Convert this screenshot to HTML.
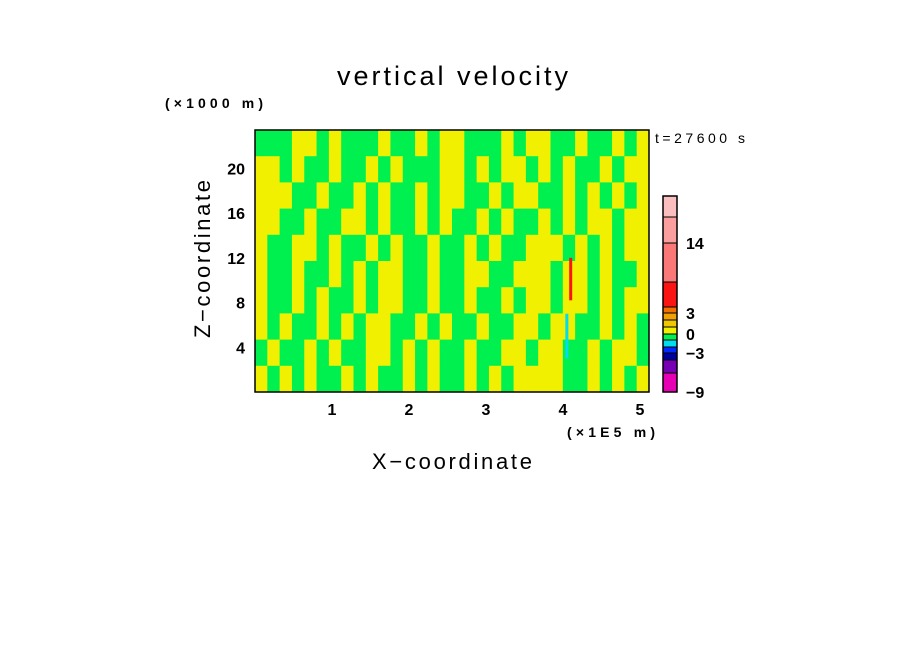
<!DOCTYPE html>
<html><head><meta charset="utf-8"><style>
body{margin:0;background:#fff;}
svg text{font-family:"Liberation Sans",sans-serif;fill:#000;}
</style></head><body>
<svg id="chart" width="904" height="654" viewBox="0 0 904 654" xmlns="http://www.w3.org/2000/svg">
<text x="337" y="85" font-size="27" textLength="231" lengthAdjust="spacing">vertical velocity</text>
<text x="165" y="108" font-size="14" font-weight="bold" textLength="98" lengthAdjust="spacing">(×1000 m)</text>
<text x="655" y="143" font-size="14" textLength="90" lengthAdjust="spacing">t=27600 s</text>
<text x="567" y="437" font-size="14" font-weight="bold" textLength="88" lengthAdjust="spacing">(×1E5 m)</text>
<text x="372" y="469" font-size="22" textLength="160" lengthAdjust="spacing">X−coordinate</text>
<text transform="translate(210,338) rotate(-90)" font-size="22" textLength="158" lengthAdjust="spacing">Z−coordinate</text>
<g id="field"></g>
<g id="axes"></g>
<g id="cbar"></g>
</svg>
<script>
const fieldRows = [
"GGGYYGYGGGYGGYGYYGGGYGYYGGYGGYGY",
"YYGYGGYGGYGYGGGYYGYGYYGYGYGGYGYY",
"YYYGGYGGYGYGGYGYYGGYGYYGGYGYGYGY",
"YYGGYGGYYGYGGYGYGGYGYGGYGYGYYGYY",
"YGGYYGYGGYGYGGYGGYGYGGYYYGYGYGYY",
"YGGYGGYGYGYYGGYGGYYGGYYYGYYGYGGY",
"YGGYGYGGYGYYGGYGGYGGYGYYGYYGYGYY",
"YGYGGYGYGYYGGYGYGGYGGYYGYYGGYGYG",
"GYGGYGYGGYYGYGYGGYGGYYGYYGGYGYYG",
"YGYGYGGYGYGGYGYGGYGYGYYYYGGYGYGY"
];
const xTicks = [1,2,3,4,5];
const yTicks = [4,8,12,16,20];
const cbLevels = [-9,-6,-4,-3,-2,-1,0,1,2,3,4,8,14,18,22];
const cbLabels = [-9,-3,0,3,14];
const cbColors = ["#e600b4","#7800b4","#0000a0","#0028ff","#00dcf0","#00f050","#f0f000","#f0c800","#f0a000","#f07000","#fa1414","#fa7878","#fa9e9e","#fabebe"];
const streakX = [4.10, 4.05];
const streakZ0 = [8.2, 3.0];
const streakZ1 = [12.0, 7.0];
const streakColor = ["#fa1414","#00dcf0"];

const X0=255,X1=649,Y0=392,Y1=130;
const xmax=(X1-X0)/77, zmax=(Y0-Y1)/11.18;
const sx=v=>X0+v*77, sy=v=>Y0-v*11.18;
const NS="http://www.w3.org/2000/svg";
function mk(t,a,p){const e=document.createElementNS(NS,t);for(const k in a)e.setAttribute(k,a[k]);p.appendChild(e);return e;}
const field=document.getElementById('field');
const nr=fieldRows.length,nc=fieldRows[0].length;
fieldRows.forEach((row,r)=>{
  for(let c=0;c<nc;c++){
    const xa=c*xmax/nc, xb=(c+1)*xmax/nc, za=zmax-(r)*zmax/nr, zb=zmax-(r+1)*zmax/nr;
    const el=mk('rect',{x:sx(xa),y:sy(za),width:sx(xb)-sx(xa)+0.5,height:sy(zb)-sy(za)+0.5,fill:row[c]==='G'?'#00f050':'#f0f000'},field);
    
    
  }
});
streakX.forEach((v,i)=>{
  const el=mk('rect',{x:sx(v)-1.5,y:sy(streakZ1[i]),width:3,height:sy(streakZ0[i])-sy(streakZ1[i]),fill:streakColor[i]},field);
  
  
});
const axes=document.getElementById('axes');
const fr=mk('rect',{x:X0,y:Y1,width:X1-X0,height:Y0-Y1,fill:'none',stroke:'#000','stroke-width':1.5},axes);


xTicks.forEach(v=>{
  const t=mk('text',{x:sx(v),y:Y0+23,'font-size':16,'font-weight':'bold','text-anchor':'middle'},axes);t.textContent=v;
  
  
});
yTicks.forEach(v=>{
  const t=mk('text',{x:X0-10,y:sy(v)+6,'font-size':16,'font-weight':'bold','text-anchor':'end'},axes);t.textContent=v;
  
  
});
const cb=document.getElementById('cbar');
const CB0=392,CB1=196;
const segH=[19,13,7,6,7,6,7,7,7,6,25,39,26,21];
let yy=CB0;
const lvY={};
lvY[cbLevels[0]]=yy;
const tot=segH.reduce((a,b)=>a+b,0);
cbColors.forEach((col,i)=>{
  const h=segH[i]*(CB0-CB1)/tot;
  const el=mk('rect',{x:663,y:yy-h,width:14,height:h,fill:col,stroke:'#000','stroke-width':1},cb);
  
  
  yy-=h; lvY[cbLevels[i+1]]=yy;
});
const fb=mk('rect',{x:663,y:CB1,width:14,height:CB0-CB1,fill:'none',stroke:'#000','stroke-width':1.5},cb);


cbLabels.forEach(v=>{
  const t=mk('text',{x:686,y:lvY[v]+6,'font-size':16,'font-weight':'bold'},cb);t.textContent=(v<0?'−':'')+Math.abs(v);
  
  
});
</script>
</body></html>
